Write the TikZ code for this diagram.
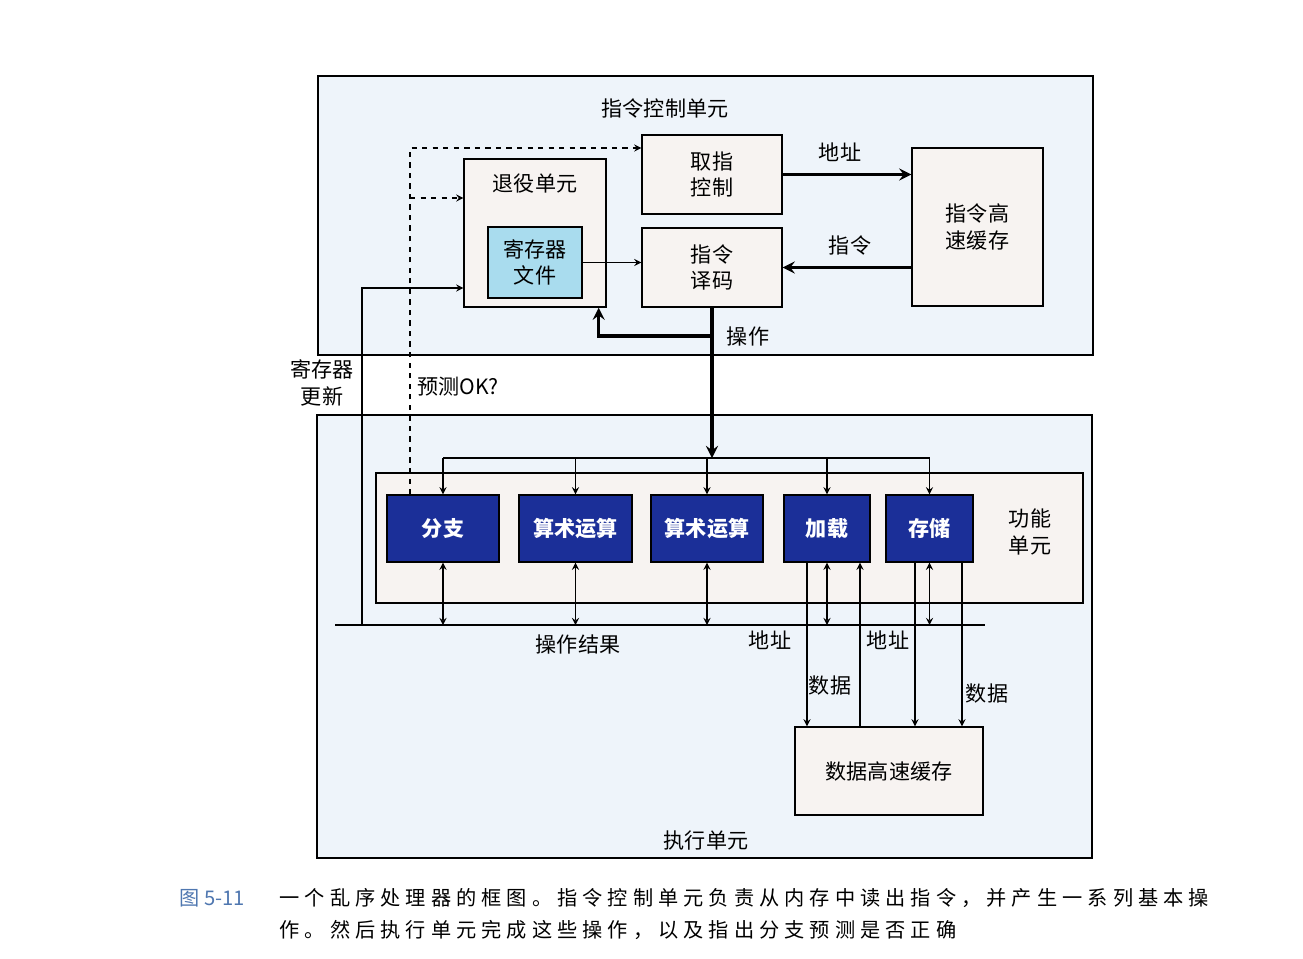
\documentclass[tikz,border=0pt]{standalone}
\usepackage{fontspec}
\setmainfont{Noto Sans CJK SC}
\newfontfamily\capfont[LetterSpace=25]{Noto Sans CJK SC}
\definecolor{unitbg}{HTML}{EEF4FA}
\definecolor{boxbg}{HTML}{F7F3F1}
\definecolor{regbg}{HTML}{A9DCEE}
\definecolor{fublue}{HTML}{1B2F98}
\definecolor{capblue}{HTML}{4F77B0}
\begin{document}
\begin{tikzpicture}[>=stealth,x=0.02cm,y=-0.02cm,line width=0.8pt,
  font=\fontsize{12}{15}\selectfont,
  unit/.style={draw,rectangle,fill=unitbg,minimum width=15.5cm},
  blk/.style={draw,rectangle,fill=boxbg,align=center},
  fu/.style={draw,rectangle,fill=fublue,text=white,font=\fontsize{12}{15}\selectfont\bfseries,minimum height=1.34cm},
  bus/.style={line width=2pt}]
\useasboundingbox (0,0) rectangle (1303,958);
\fill[white] (0,0) rectangle (1303,958);

% instruction control unit
\node[unit,minimum height=5.58cm] (ctrl) at (705.5,215.5) {};
\node (ctrllbl) at (665,108) {指令控制单元};
\node[blk,minimum width=2.84cm,minimum height=2.96cm] (retire) at (535,233) {};
\node (retirelbl) at (535,184) {退役单元};
\node[draw,rectangle,fill=regbg,align=center,minimum width=1.88cm,minimum height=1.42cm] (regfile) at (535,262.5) {寄存器\\文件};
\node[blk,minimum width=2.8cm,minimum height=1.58cm] (fetch) at (712,174.5) {取指\\控制};
\node[blk,minimum width=2.8cm,minimum height=1.58cm] (decode) at (712,267.5) {指令\\译码};
\node[blk,minimum width=2.62cm,minimum height=3.16cm] (icache) at (977.5,227) {指令高\\速缓存};

% execution unit
\node[unit,minimum height=8.86cm] (exec) at (704.5,636.5) {};
\node (execlbl) at (706,840) {执行单元};
\node[blk,minimum width=14.14cm,minimum height=2.6cm] (fubox) at (729.5,538) {};
\node[align=center] (fulbl) at (1030,532) {功能\\单元};
\node[fu,minimum width=2.24cm] (branch) at (443,528.5) {分支};
\node[fu,minimum width=2.26cm] (alua) at (575.5,528.5) {算术运算};
\node[fu,minimum width=2.24cm] (alub) at (707,528.5) {算术运算};
\node[fu,minimum width=1.72cm] (load) at (827,528.5) {加载};
\node[fu,minimum width=1.74cm] (store) at (929.5,528.5) {存储};
\node[blk,minimum width=3.76cm,minimum height=1.76cm] (dcache) at (889,771) {数据高速缓存};

\coordinate (opsplit) at (712,336);
\coordinate (opbus) at (712,458);
\coordinate (resleft) at (335,625);
\coordinate (resright) at (985,625);
\coordinate (regupd) at (362,625);
\coordinate (pred) at (410,198);

% fetch / decode paths
\draw[->,bus] (fetch) -- (fetch -| icache.west);
\node (addrlbl) at (840,152) {地址};
\draw[->,bus] (icache.west |- decode) -- (decode.east);
\node (instlbl) at (850,245) {指令};
\draw[->] (regfile.east) -- (regfile.east -| decode.west);
\draw[->,bus] (decode.south) -- (opbus);
\draw[->,bus] (opsplit) -| ([xshift=-0.16cm]retire.south east);
\node (oplbl) at (748,336) {操作};

% prediction feedback
\draw[->,dashed] ([xshift=-0.66cm]branch.north) |- ([yshift=0.53cm]fetch.west);
\draw[->,dashed] (pred) -- (pred -| retire.west);
\node (predlbl) at (458,387) {预测OK?};

% register update
\draw[->] (regupd) |- ([yshift=-1.1cm]retire.west);
\node[align=center] (updlbl) at (322,383) {寄存器\\更新};

% operation bus and result bus
\draw (branch.north |- opbus) -- (store.north |- opbus);
\foreach \u in {branch,alua,alub,load,store}
  \draw[->] (\u.north |- opbus) -- (\u.north);
\draw (resleft) -- (resright);
\foreach \u in {branch,alua,alub,load,store}
  \draw[<->] (\u.south) -- (\u.south |- resleft);
\node (reslbl) at (578,644) {操作结果};

% data cache
\draw[->] ([xshift=-0.4cm]load.south) -- ([xshift=-0.4cm]load.south |- dcache.north);
\draw[->] ([xshift=0.66cm]load.south |- dcache.north) -- ([xshift=0.66cm]load.south);
\draw[->] ([xshift=-0.29cm]store.south) -- ([xshift=-0.29cm]store.south |- dcache.north);
\draw[->] ([xshift=0.65cm]store.south) -- ([xshift=0.65cm]store.south |- dcache.north);
\node (laddr) at (770,640) {地址};
\node (ldata) at (830,685) {数据};
\node (saddr) at (888,640) {地址};
\node (sdata) at (987,693) {数据};

% caption
\node[anchor=west,text=capblue,font=\fontsize{11.5}{14}\selectfont] (fignum) at (173,898) {图 5-11};
\node[anchor=west,font=\fontsize{11.5}{14}\selectfont] (capa) at (273,898) {\capfont 一个乱序处理器的框图。指令控制单元负责从内存中读出指令，并产生一系列基本操};
\node[anchor=west,font=\fontsize{11.5}{14}\selectfont] (capb) at (273,930) {\capfont 作。然后执行单元完成这些操作，以及指出分支预测是否正确};
\end{tikzpicture}
\end{document}
